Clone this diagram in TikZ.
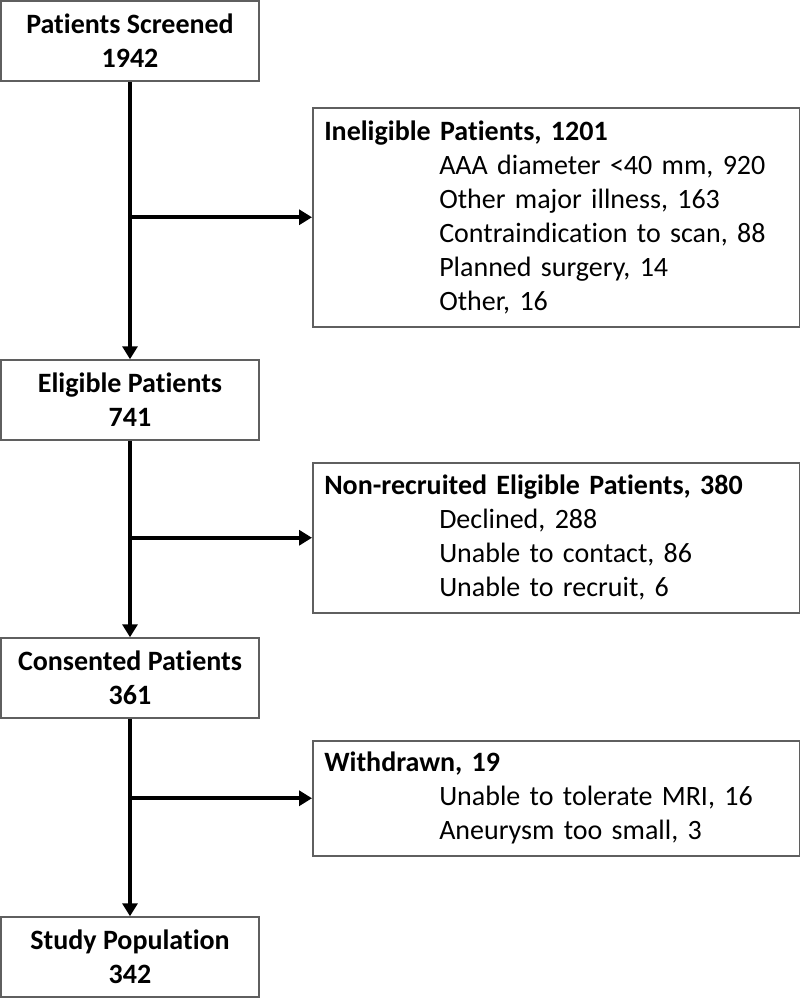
\documentclass[tikz,border=0pt]{standalone}
\usepackage{fontspec}
\setmainfont{Carlito}[Ligatures=NoCommon]
\usepackage{tikz}
\usetikzlibrary{arrows.meta}

\definecolor{boxgray}{RGB}{95,95,95}
\newcommand{\detail}[1]{\hspace*{115pt}#1}
\tikzset{
  mainbox/.style={draw=boxgray,line width=1.5pt,minimum width=258pt,minimum height=80pt,
    inner sep=0pt,align=center,font=\bfseries\fontsize{28}{34}\selectfont},
  sidebox/.style={draw=boxgray,line width=1.5pt,anchor=north west,text width=464pt,
    inner xsep=11.5pt,inner ysep=0pt,align=left,font=\fontsize{28}{34}\selectfont},
  flow/.style={->,>={Triangle[length=13pt,width=15pt]},line width=4pt}
}

\begin{document}
\begin{tikzpicture}[x=1pt,y=-1pt]
		\useasboundingbox (0,0) rectangle (800,998);
		% main column
		\node[mainbox] (screen) at (130,41) {Patients Screened\\1942};
		\node[mainbox] (elig) at (130,400) {Eligible Patients\\741};
		\node[mainbox] (consent) at (130,678) {Consented Patients\\361};
		\node[mainbox] (study) at (130,957) {Study Population\\342};
		% side boxes
		\node[sidebox,minimum height=219pt] (inel) at (312,107) {\textbf{Ineligible Patients, 1201}\\
			\detail{AAA diameter <40 mm, 920}\\
			\detail{Other major illness, 163}\\
			\detail{Contraindication to scan, 88}\\
			\detail{Planned surgery, 14}\\
			\detail{Other, 16}};
		\node[sidebox,minimum height=150pt] (nonrec) at (312,462) {\textbf{Non-recruited Eligible Patients, 380}\\
			\detail{Declined, 288}\\
			\detail{Unable to contact, 86}\\
			\detail{Unable to recruit, 6}};
		\node[sidebox,minimum height=115pt] (withdr) at (312,740) {\textbf{Withdrawn, 19}\\
			\detail{Unable to tolerate MRI, 16}\\
			\detail{Aneurysm too small, 3}};
		% branch points
		\coordinate (b1) at (screen.south |- inel.west);
		\coordinate (b2) at (elig.south |- nonrec.west);
		\coordinate (b3) at (consent.south |- withdr.west);
		\draw[flow] (screen) -- (elig);
		\draw[flow] (elig) -- (consent);
		\draw[flow] (consent) -- (study);
		\draw[flow] (b1) -- (inel.west);
		\draw[flow] (b2) -- (nonrec.west);
		\draw[flow] (b3) -- (withdr.west);
	\end{tikzpicture}
\end{document}
